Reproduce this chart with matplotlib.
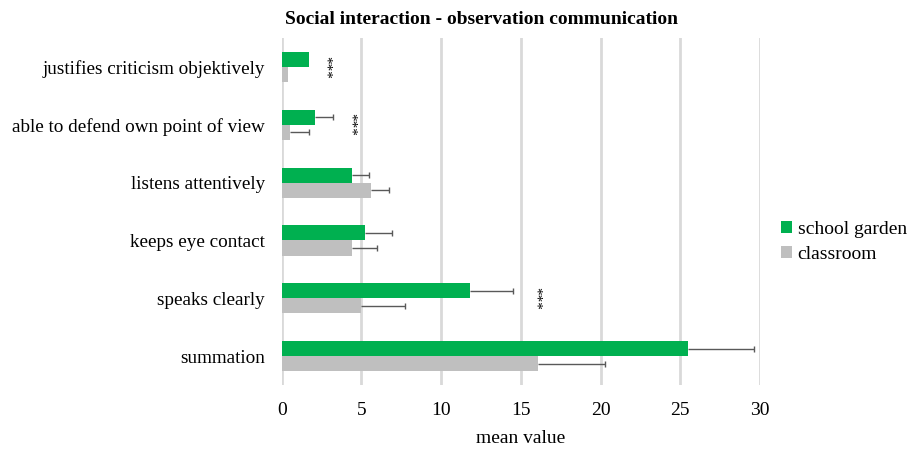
import numpy as np
import matplotlib.pyplot as plt

plt.rcParams['font.family'] = ['Liberation Serif', 'DejaVu Serif']

categories = ['summation', 'speaks clearly', 'keeps eye contact',
              'listens attentively', 'able to defend own point of view',
              'justifies criticism objektively']
garden = [25.5, 11.8, 5.2, 4.4, 2.1, 1.7]
garden_err = [4.1, 2.7, 1.7, 1.1, 1.1, 0]
classroom = [16.1, 5.0, 4.4, 5.6, 0.5, 0.4]
classroom_err = [4.2, 2.7, 1.6, 1.1, 1.2, 0]
signif = ['', '***', '', '', '***', '***']
signif_x = [0, 15.9, 0, 0, 4.3, 2.7]

green = '#00B050'
grey = '#BFBFBF'

fig = plt.figure(figsize=(9.09, 4.49), dpi=100)
ax = fig.add_axes([0.310, 0.1425, 0.526, 0.7725])

y = np.arange(len(categories))
h = 0.26
ax.barh(y + h / 2, garden, h, color=green, label='school garden', zorder=3)
ax.barh(y - h / 2, classroom, h, color=grey, label='classroom', zorder=3)

# one-sided error bars with a cap only at the outer end
for off, vals, errs in [(h / 2, garden, garden_err), (-h / 2, classroom, classroom_err)]:
    vals = np.array(vals)
    errs = np.array(errs)
    m = errs > 0
    ax.hlines(y[m] + off, vals[m], vals[m] + errs[m], color='#595959',
              linewidth=1, zorder=4)
    ax.plot(vals[m] + errs[m], y[m] + off, ls='none', marker='|',
            markersize=5, markeredgewidth=1, color='#595959', zorder=4)

for yi, s, sx in zip(y, signif, signif_x):
    if s:
        ax.text(sx, yi, s, rotation=270, ha='center', va='center', fontsize=11)

ax.set_xlim(0, 30)
ax.set_ylim(-0.5, 5.5)
ax.set_xticks(np.arange(0, 31, 5))
ax.set_yticks(y)
ax.set_yticklabels(categories, fontsize=13.8)
ax.tick_params(axis='x', labelsize=14, length=0, pad=12)
ax.tick_params(axis='y', length=0, pad=12)
ax.grid(axis='x', color='#D9D9D9', linewidth=2, zorder=0)
ax.set_axisbelow(True)
for sp in ax.spines.values():
    sp.set_visible(False)

ax.set_xlabel('mean value', fontsize=14, labelpad=8)
fig.text(481 / 909, 1 - 19 / 449, 'Social interaction - observation communication',
         fontsize=14, fontweight='bold', ha='center', va='center')

fig.legend(loc='center left', bbox_to_anchor=(781 / 909, 1 - 242 / 449),
           frameon=False, fontsize=14, handlelength=0.55, handleheight=0.55,
           handletextpad=0.3, labelspacing=0.4, borderpad=0, borderaxespad=0)

fig.savefig('out.png', dpi=100)
